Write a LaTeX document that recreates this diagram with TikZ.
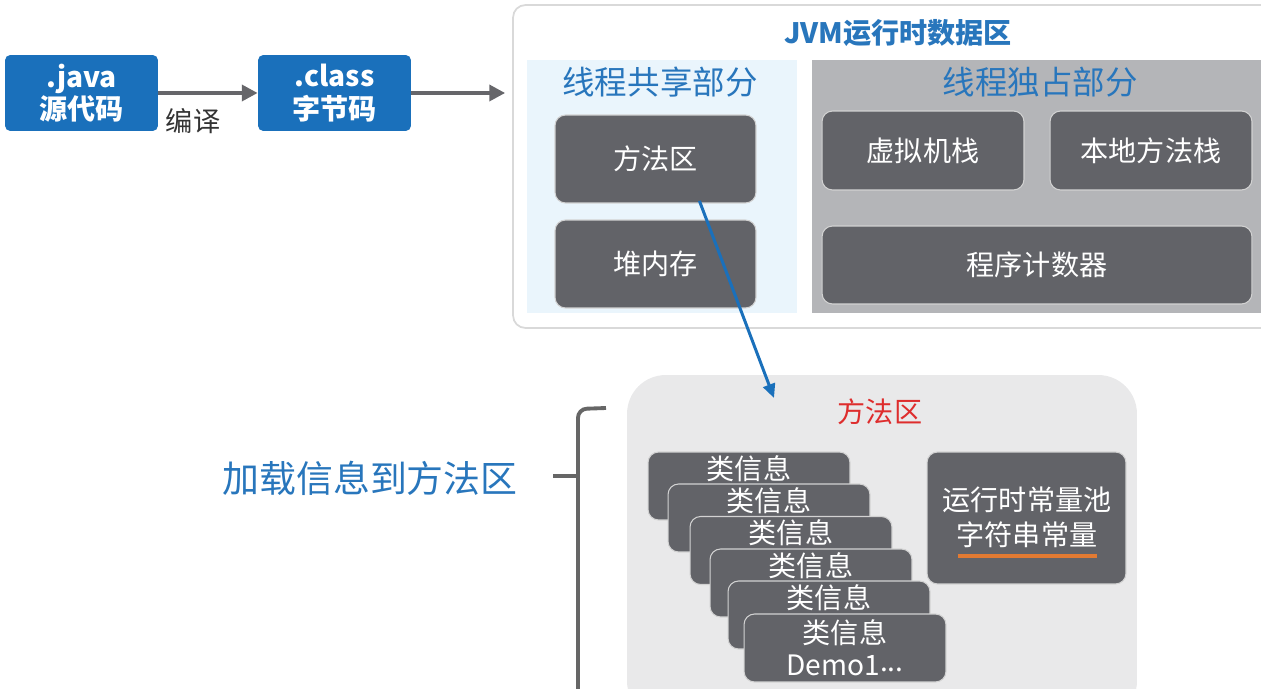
\documentclass[tikz,border=0pt]{standalone}
\usepackage{fontspec}
\setmainfont{Noto Sans CJK SC}
\usetikzlibrary{arrows.meta,positioning}

\definecolor{boxblu}{RGB}{26,112,187}
\definecolor{titblu}{RGB}{40,118,188}
\definecolor{scuro}{RGB}{98,99,104}
\definecolor{azzurro}{RGB}{234,245,252}
\definecolor{grigio}{RGB}{180,181,184}
\definecolor{fondo}{RGB}{233,233,234}
\definecolor{rosso}{RGB}{222,45,45}
\definecolor{arancio}{RGB}{226,122,50}
\definecolor{freccia}{RGB}{102,102,106}

\tikzset{
  blubox/.style={fill=boxblu, rounded corners=3pt, text=white, align=center,
    font=\fontsize{16}{18.5}\selectfont\bfseries,
    minimum width=3.06cm, minimum height=1.52cm},
  darkbox/.style={fill=scuro, draw=gray!35, line width=0.6pt, rounded corners=6pt,
    text=white, font=\fontsize{16}{19}\selectfont},
  infobox/.style={darkbox, minimum width=4.04cm, minimum height=1.36cm},
  infotxt/.style={text=white, inner sep=0pt, font=\fontsize{16}{18}\selectfont},
  grigia/.style={draw=freccia, line width=2.2pt, -{Triangle[length=9pt,width=9pt]}},
  graffa/.style={draw=gray!80!black, line width=2.2pt},
  titolo/.style={text=titblu, font=\fontsize{18.5}{20}\selectfont}
}

\begin{document}
\begin{tikzpicture}[x=0.02cm, y=-0.02cm]
\useasboundingbox (0,0) rectangle (1261,689);

% Compilazione

\node[blubox] (java) at (81.5,93) {.java\\源代码};
\node[blubox] (class) at (334.5,93) {.class\\字节码};
\node[font=\fontsize{15.5}{18}\selectfont, text=black!80] (comp) at (193,121) {编译};
\draw[grigia] (java) -- (class);

% Area dati

\node[draw=gray!30, line width=1pt, fill=white, rounded corners=7pt,
  minimum width=15.34cm, minimum height=6.46cm] (jvm) at (896.5,166.5) {};
\node[text=titblu, font=\fontsize{16}{18}\selectfont\bfseries] (jvmt) at (898,33) {JVM运行时数据区};
\draw[grigia, shorten >=4pt] (class.east) -- (class.east -| jvm.west);

\node[fill=azzurro, minimum width=5.4cm, minimum height=5.06cm] (shared) at (662,186.5) {};
\node[fill=grigio, minimum width=9.26cm, minimum height=5.06cm] (own) at (1043.5,186.5) {};
\node[titolo] (sharedt) at (660,82) {线程共享部分};
\node[titolo] (ownt) at (1040,82) {线程独占部分};

\node[darkbox, minimum width=4.02cm, minimum height=1.76cm] (ma) at (655.5,159) {方法区};
\node[darkbox, minimum width=4.02cm, minimum height=1.76cm] (heap) at (655.5,264) {堆内存};
\node[darkbox, minimum width=4.04cm, minimum height=1.58cm] (vms) at (923,150.5) {虚拟机栈};
\node[darkbox, minimum width=4.04cm, minimum height=1.58cm] (nms) at (1151,150.5) {本地方法栈};
\node[darkbox, minimum width=8.6cm, minimum height=1.56cm] (pc) at (1037,265) {程序计数器};

% Metodo

\node[fill=fondo, rounded corners=22pt, minimum width=10.2cm, minimum height=6.9cm] (area) at (882,547.5) {};
\node[text=rosso, font=\fontsize{16}{18}\selectfont] (areat) at (880,412) {方法区};
\coordinate (entra) at (774,398);
\draw[draw=boxblu, line width=1.7pt, -{Triangle[length=8pt,width=7pt]}] ([xshift=25pt,yshift=1.5pt]ma.south) -- (entra);

\foreach \i/\x/\y in {1/749/486, 2/769/518, 3/791/550.5, 4/811/583, 5/829/615} {
  \node[infobox] (cls\i) at (\x,\y) {};
  \node[infotxt] (clst\i) at ([yshift=-9.6pt]cls\i.north) {类信息};
}
\node[infobox, align=center, font=\fontsize{16}{18}\selectfont] (cls6) at (845,648) {类信息\\Demo1\raisebox{0.3ex}{...}};

\node[darkbox, minimum width=3.98cm, minimum height=2.64cm] (pool) at (1026.5,518) {};
\node[text=white, align=center, font=\fontsize{16}{20}\selectfont] (poolt) at (1027,517.5) {运行时常量池\\字符串常量};
\draw[arancio, line width=2.2pt] (958,556) -- (1097,556);

% Graffa

\draw[graffa, rounded corners=5pt] (606,408) -- (578,409) -- (578,700);
\draw[graffa] (553,476) -- (578,476);
\node[text=titblu, font=\fontsize{21}{24}\selectfont] (load) at (370,478) {加载信息到方法区};

\end{tikzpicture}
\end{document}
